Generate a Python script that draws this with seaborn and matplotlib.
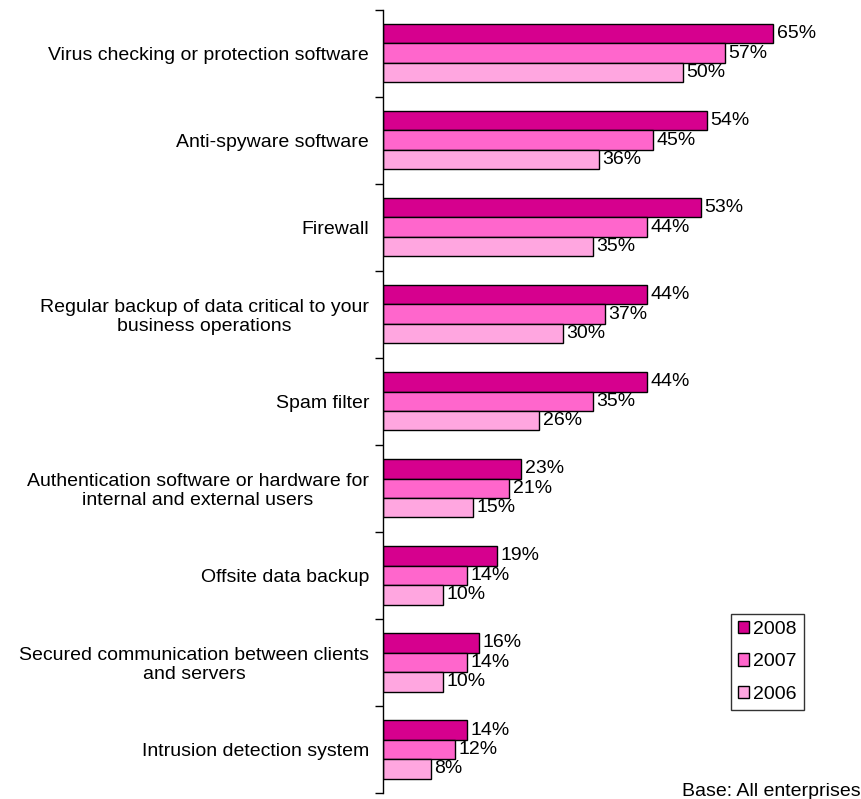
import matplotlib
matplotlib.use("Agg")
import matplotlib.pyplot as plt
import seaborn as sns
import pandas as pd

categories = [
    "Virus checking or protection software",
    "Anti-spyware software",
    "Firewall",
    "Regular backup of data critical to your\nbusiness operations",
    "Spam filter",
    "Authentication software or hardware for\ninternal and external users",
    "Offsite data backup",
    "Secured communication between clients\nand servers",
    "Intrusion detection system",
]
years = ["2008", "2007", "2006"]
values_2008 = [65, 54, 53, 44, 44, 23, 19, 16, 14]
values_2007 = [57, 45, 44, 37, 35, 21, 14, 14, 12]
values_2006 = [50, 36, 35, 30, 26, 15, 10, 10, 8]
colors = ["#D6008E", "#FF66CC", "#FFA6E0"]

df = pd.DataFrame({
    "category": categories * 3,
    "year": [years[0]] * 9 + [years[1]] * 9 + [years[2]] * 9,
    "value": values_2008 + values_2007 + values_2006,
})

sns.set_theme(style="white")
plt.rcParams["font.family"] = ["Liberation Sans", "DejaVu Sans"]
plt.rcParams["text.color"] = "black"
plt.rcParams["axes.labelcolor"] = "black"
plt.rcParams["xtick.color"] = "black"
plt.rcParams["ytick.color"] = "black"

FS = 14.0

fig = plt.figure(figsize=(8.62, 7.99), dpi=100)
ax = fig.add_axes([383 / 862, 6 / 799, 1 - 383 / 862, 783.5 / 799])

sns.barplot(
    data=df, y="category", x="value", hue="year", hue_order=years,
    order=categories, palette=colors, orient="h", width=0.67,
    edgecolor="black", linewidth=1.0, saturation=1, ax=ax,
)

for cont in ax.containers:
    ax.bar_label(cont, fmt="%d%%", padding=2.5, fontsize=FS, color="black")

ax.set_xlim(0, 79.8)
ax.set_ylim(8.5, -0.5)
ax.set_xlabel("")
ax.set_ylabel("")
ax.set_xticks([])

# ticks sit on the category boundaries; labels go on minor positions at centres
ax.set_yticks([i + 0.5 for i in range(-1, 9)])
ax.set_yticklabels([])
ax.set_yticks(range(9), minor=True)
ax.set_yticklabels(categories, minor=True, fontsize=FS, color="black",
                   multialignment="center", linespacing=1.13)
ax.tick_params(axis="y", which="major", left=True, length=6, width=1, color="black", direction="out")
ax.tick_params(axis="y", which="minor", left=False, length=0, pad=10)

for side in ["top", "right", "bottom"]:
    ax.spines[side].set_visible(False)
ax.spines["left"].set_color("black")
ax.spines["left"].set_linewidth(1)

leg = ax.legend(
    loc="upper left", bbox_to_anchor=((731 - 383) / 479, 1 - (614 - 9.5) / 783.5),
    frameon=True, fancybox=False, edgecolor="black", fontsize=FS,
    handlelength=0.6, handleheight=0.6, handletextpad=0.2, labelspacing=0.8,
    borderpad=0.35, borderaxespad=0,
)
leg.get_frame().set_linewidth(1)

fig.text(861 / 862, 1 - 792 / 799, "Base: All enterprises", ha="right", va="center", fontsize=FS)

fig.savefig("out.png", dpi=100)
